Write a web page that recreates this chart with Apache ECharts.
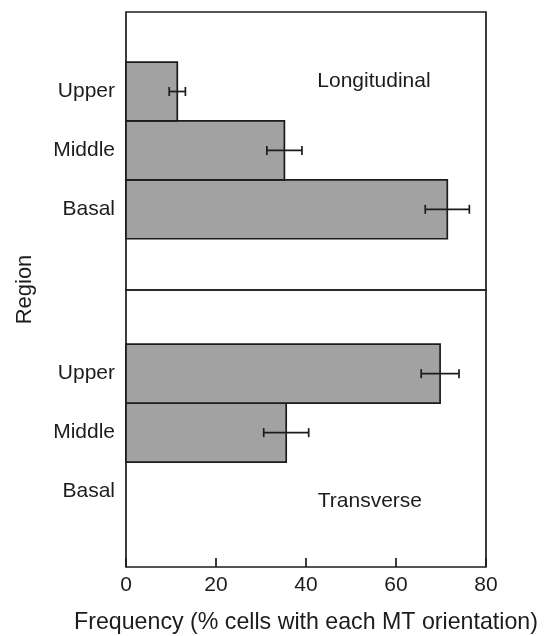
<!DOCTYPE html>
<html>
<head>
<meta charset="utf-8">
<script src="https://cdn.jsdelivr.net/npm/echarts@6/dist/echarts.min.js"></script>
<style>
  html, body { margin: 0; padding: 0; background: #fff; }
  #chart { width: 549px; height: 636px; }
</style>
</head>
<body>
<div id="chart"></div>
<script>
// Regions along the organ, bottom-to-top on the y axis
const regions = ['Basal', 'Middle', 'Upper'];
// Longitudinal MT orientation: mean frequency and error (±)
const longitudinalMean = [71.4, 35.2, 11.4];
const longitudinalErr = [4.9, 3.9, 1.8];
// Transverse MT orientation: mean frequency and error (±)
const transverseMean = [0, 35.6, 69.8];
const transverseErr = [0, 5.0, 4.2];
// Frequency axis ticks
const freqTicks = [0, 20, 40, 60, 80];
// Panel labels and where they sit (frequency, region position)
const panelNames = ['Longitudinal', 'Transverse'];
const panelLabelPos = [[55.1, 2.18], [54.2, -0.16]];

const FONT = '"Liberation Sans", Arial, Helvetica, sans-serif';
const INK = '#1c1c1c';

function rows(means, errs) {
  return regions.map((r, i) => [i, means[i], errs[i]]);
}

function renderBar(params, api) {
  const y = api.value(0);
  const v = api.value(1);
  const e = api.value(2);
  if (!v) return null;
  const a = api.coord([0, y + 0.5]);
  const b = api.coord([v, y - 0.5]);
  const lo = api.coord([v - e, y]);
  const hi = api.coord([v + e, y]);
  const cap = 4.5;
  return {
    type: 'group',
    children: [
      {
        type: 'rect',
        shape: { x: a[0], y: a[1], width: b[0] - a[0], height: b[1] - a[1] },
        style: { fill: '#a2a2a2', stroke: INK, lineWidth: 1.7 }
      },
      {
        type: 'line',
        shape: { x1: lo[0], y1: lo[1], x2: hi[0], y2: hi[1] },
        style: { stroke: INK, lineWidth: 1.7 }
      },
      {
        type: 'line',
        shape: { x1: lo[0], y1: lo[1] - cap, x2: lo[0], y2: lo[1] + cap },
        style: { stroke: INK, lineWidth: 1.7 }
      },
      {
        type: 'line',
        shape: { x1: hi[0], y1: hi[1] - cap, x2: hi[0], y2: hi[1] + cap },
        style: { stroke: INK, lineWidth: 1.7 }
      }
    ]
  };
}

const yLabel = {
  customValues: [0, 1, 2],
  formatter: v => regions[Math.round(v)] || '',
  fontFamily: FONT, fontSize: 21, color: INK, margin: 11
};

const hiddenAxis = {
  axisLine: { show: false }, axisTick: { show: false }, axisLabel: { show: false }, splitLine: { show: false }
};

const panelLabel = {
  show: true, position: 'inside', formatter: '{b}', opacity: 1,
  fontFamily: FONT, fontSize: 21, color: INK
};

const chart = echarts.init(document.getElementById('chart'), null, { renderer: 'canvas' });
chart.setOption({
  animation: false,
  backgroundColor: '#fff',
  grid: [
    { left: 126, top: 12, width: 360, height: 278, show: true, borderColor: INK, borderWidth: 1.7, backgroundColor: 'transparent' },
    { left: 126, top: 290, width: 360, height: 277, show: true, borderColor: INK, borderWidth: 1.7, backgroundColor: 'transparent' },
    // spans both panels; carries the shared "Region" axis title
    { left: 126, top: 12, width: 360, height: 555, show: false }
  ],
  xAxis: [
    Object.assign({ gridIndex: 0, type: 'value', min: freqTicks[0], max: freqTicks[freqTicks.length - 1], interval: 20 }, hiddenAxis),
    {
      gridIndex: 1, type: 'value', min: freqTicks[0], max: freqTicks[freqTicks.length - 1], interval: 20,
      axisLine: { show: false, onZero: false },
      axisTick: { show: true, inside: true, length: 9, lineStyle: { color: INK, width: 1.7 } },
      axisLabel: { fontFamily: FONT, fontSize: 21, color: INK, margin: 8 },
      splitLine: { show: false },
      name: 'Frequency (% cells with each MT orientation)',
      nameLocation: 'middle', nameGap: 44,
      nameTextStyle: { fontFamily: FONT, fontSize: 23.2, color: INK }
    },
    Object.assign({ gridIndex: 2, type: 'value', min: 0, max: 1 }, hiddenAxis)
  ],
  yAxis: [
    {
      gridIndex: 0, type: 'value', min: -1.37, max: 3.35,
      axisLine: { show: false }, axisTick: { show: false }, splitLine: { show: false },
      axisLabel: yLabel
    },
    {
      gridIndex: 1, type: 'value', min: -1.28, max: 3.42,
      axisLine: { show: false }, axisTick: { show: false }, splitLine: { show: false },
      axisLabel: yLabel
    },
    Object.assign({
      gridIndex: 2, type: 'value', min: 0, max: 1,
      name: 'Region', nameLocation: 'middle', nameGap: 90,
      nameTextStyle: { fontFamily: FONT, fontSize: 22, color: INK }
    }, hiddenAxis)
  ],
  series: [
    {
      name: panelNames[0], type: 'custom', xAxisIndex: 0, yAxisIndex: 0,
      encode: { x: 1, y: 0 }, renderItem: renderBar,
      data: rows(longitudinalMean, longitudinalErr)
    },
    {
      name: panelNames[1], type: 'custom', xAxisIndex: 1, yAxisIndex: 1,
      encode: { x: 1, y: 0 }, renderItem: renderBar,
      data: rows(transverseMean, transverseErr)
    },
    {
      type: 'scatter', xAxisIndex: 0, yAxisIndex: 0, symbolSize: 0, silent: true,
      itemStyle: { opacity: 1 },
      data: [{ value: panelLabelPos[0], name: panelNames[0] }],
      label: panelLabel
    },
    {
      type: 'scatter', xAxisIndex: 1, yAxisIndex: 1, symbolSize: 0, silent: true,
      itemStyle: { opacity: 1 },
      data: [{ value: panelLabelPos[1], name: panelNames[1] }],
      label: panelLabel
    }
  ]
});
</script>
</body>
</html>
